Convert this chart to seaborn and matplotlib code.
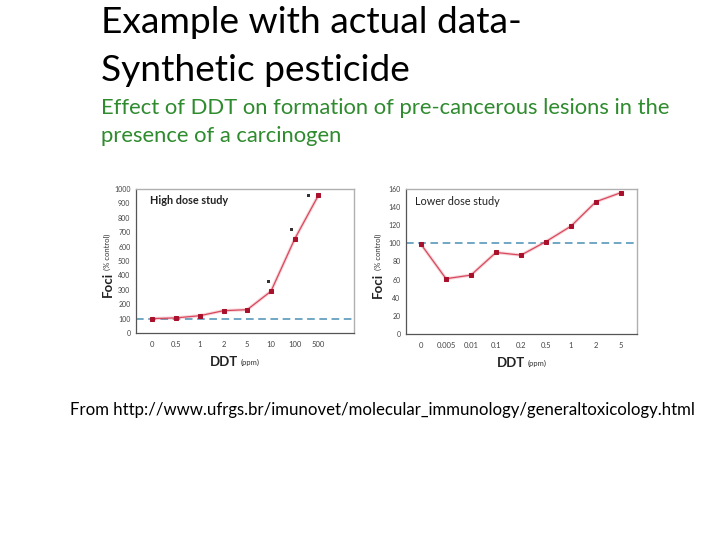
import pandas as pd
import matplotlib.pyplot as plt
import seaborn as sns

# dados
alta_doses = ['0', '0.5', '1', '2', '5', '10', '100', '500']
alta_foci = [100, 105, 120, 155, 162, 290, 653, 956]
# asteriscos (significancia) -> indice da dose, deslocamento, valor
alta_sig_idx = [5, 6, 7]
alta_sig_desl = [-0.11, -0.15, -0.42]
alta_sig_foci = [359, 717, 956]

baixa_doses = ['0', '0.005', '0.01', '0.1', '0.2', '0.5', '1', '2', '5']
baixa_foci = [99, 61, 65, 90, 87, 102, 119, 146, 156]

sns.set_style('white')
plt.rcParams['font.family'] = ['Lato', 'DejaVu Sans']

fig = plt.figure(figsize=(7.2, 5.4), dpi=100)
fig.patch.set_facecolor('white')

# Textos do slide
fig.text(101 / 720, 1 - 33 / 540, 'Example with actual data-', fontsize=26.7, color='black')
fig.text(101 / 720, 1 - 81 / 540, 'Synthetic pesticide', fontsize=26.7, color='black')
fig.text(101 / 720, 1 - 114 / 540, 'Effect of DDT on formation of pre-cancerous lesions in the',
         fontsize=15.8, color='#2e8b2e')
fig.text(101 / 720, 1 - 142 / 540, 'presence of a carcinogen', fontsize=15.8, color='#2e8b2e')
fig.text(70 / 720, 1 - 415 / 540,
         'From http://www.ufrgs.br/imunovet/molecular_immunology/generaltoxicology.html',
         fontsize=12.05, color='black')

linha = '#d9485c'
marca = '#a8102c'
tracejado = '#4a8fb5'


def estilo(ax, rotulos, xlim, ylim, yticks, titulo, negrito, pos):
    ax.set_xlim(*xlim)
    ax.set_ylim(*ylim)
    ax.set_yticks(yticks)
    ax.set_yticklabels([str(v) for v in yticks], fontsize=5, color='#444444')
    ax.set_xticks(range(len(rotulos)))
    ax.set_xticklabels(rotulos, fontsize=5.5, color='#444444')
    ax.set_xticks([i + 0.5 for i in range(len(rotulos))], minor=True)
    ax.tick_params(axis='x', which='major', length=0, pad=6)
    ax.tick_params(axis='x', which='minor', length=2.5, width=0.6, color='#555555', direction='out')
    ax.tick_params(axis='y', length=2, width=0.6, color='#555555', direction='out', pad=2)
    for lado in ['top', 'right']:
        ax.spines[lado].set_color('#b0b0b0')
        ax.spines[lado].set_linewidth(1.0)
    for lado in ['left', 'bottom']:
        ax.spines[lado].set_color('#555555')
        ax.spines[lado].set_linewidth(0.9)
    ax.axhline(100, color=tracejado, linestyle=(0, (5, 3)), linewidth=1.1, zorder=1)
    ax.text(pos['tx'], 0.955, titulo, transform=ax.transAxes, fontsize=7.8,
            fontweight='bold' if negrito else 'normal', va='top', color='#222222')
    ax.set_xlabel('')
    ax.set_ylabel('')
    ax.text(pos['ddt'], -0.20, 'DDT', transform=ax.transAxes, fontsize=9.5, fontweight='bold',
            ha='right', va='center', color='#222222')
    ax.text(pos['ddt'] + 0.012, -0.205, '(ppm)', transform=ax.transAxes, fontsize=5.5,
            ha='left', va='center', color='#333333')
    ax.text(pos['fx'], 0.335, 'Foci', transform=ax.transAxes, fontsize=9.5, fontweight='bold',
            rotation=90, ha='center', va='center', color='#222222')
    ax.text(pos['fx'], 0.565, '(% control)', transform=ax.transAxes, fontsize=5.5,
            rotation=90, ha='center', va='center', color='#333333')


# Grafico da esquerda - dose alta
ax1 = fig.add_axes([136 / 720, 1 - 333 / 540, 218 / 720, 144 / 540])
df_alta = pd.DataFrame({'pos': range(len(alta_doses)), 'Foci': alta_foci})
sns.lineplot(data=df_alta, x='pos', y='Foci', ax=ax1, color=linha, linewidth=2.4, alpha=0.22, zorder=2)
sns.lineplot(data=df_alta, x='pos', y='Foci', ax=ax1, color=linha, linewidth=0.9, marker='s',
             markersize=2.4, markerfacecolor=marca, markeredgecolor=marca, zorder=3)
df_sig = pd.DataFrame({'pos': [i + d for i, d in zip(alta_sig_idx, alta_sig_desl)], 'Foci': alta_sig_foci})
sns.scatterplot(data=df_sig, x='pos', y='Foci', ax=ax1, color='#333333', marker='s', s=4,
                edgecolor='none', zorder=4)
estilo(ax1, alta_doses, (-0.69, 8.5), (0, 1000), list(range(0, 1001, 100)),
       'High dose study', True, {'tx': 0.064, 'ddt': 0.47, 'fx': -0.13})

# Grafico da direita - dose baixa
ax2 = fig.add_axes([406 / 720, 1 - 334 / 540, 231 / 720, 145 / 540])
df_baixa = pd.DataFrame({'pos': range(len(baixa_doses)), 'Foci': baixa_foci})
sns.lineplot(data=df_baixa, x='pos', y='Foci', ax=ax2, color=linha, linewidth=2.4, alpha=0.22, zorder=2)
sns.lineplot(data=df_baixa, x='pos', y='Foci', ax=ax2, color=linha, linewidth=0.9, marker='s',
             markersize=2.4, markerfacecolor=marca, markeredgecolor=marca, zorder=3)
estilo(ax2, baixa_doses, (-0.6, 8.64), (0, 160), list(range(0, 161, 20)),
       'Lower dose study', False, {'tx': 0.04, 'ddt': 0.515, 'fx': -0.12})

fig.savefig('out.png', dpi=100, facecolor='white')
